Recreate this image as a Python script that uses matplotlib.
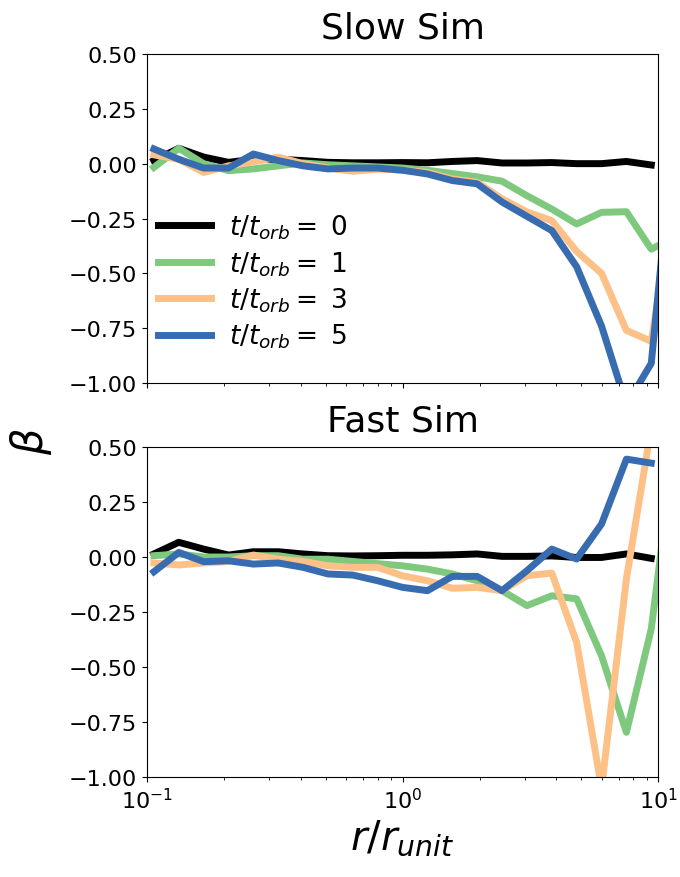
import matplotlib
matplotlib.use("Agg")

import numpy as np
import matplotlib.pyplot as plt

nan = np.nan

# radial bin centres (log spaced), last one sits just past the plot edge
r = np.logspace(-0.9725, 1.07, 22)

times = [0, 1, 3, 5]
colors = ["black", "#7fc97f", "#fdc086", "#386cb0"]

slow_t0 = [0.014, 0.07, 0.03, 0.006, 0.02, 0.02, 0.014, 0.006, 0.004, 0.004, 0.005,
           0.004, 0.01, 0.014, 0.003, 0.003, 0.005, 0.0, 0.0, 0.01, -0.006, nan]
slow_t1 = [-0.017, 0.07, 0.0, -0.032, -0.024, -0.01, 0.003, -0.005, -0.01, -0.015, -0.02,
           -0.03, -0.045, -0.06, -0.08, -0.146, -0.207, -0.275, -0.222, -0.219, -0.39, -0.33]
slow_t3 = [0.04, 0.02, -0.04, -0.01, 0.008, 0.03, 0.0, -0.02, -0.035, -0.025, -0.03,
           -0.04, -0.07, -0.085, -0.16, -0.22, -0.26, -0.40, -0.50, -0.76, -0.81, -0.1]
slow_t5 = [0.067, 0.02, -0.02, -0.02, 0.044, 0.014, -0.01, -0.024, -0.02, -0.02, -0.03,
           -0.047, -0.077, -0.092, -0.175, -0.24, -0.305, -0.47, -0.74, -1.1, -0.91, 0.25]

fast_t0 = [0.014, 0.067, 0.036, 0.009, 0.024, 0.024, 0.014, 0.006, 0.005, 0.006, 0.008,
           0.008, 0.01, 0.014, 0.003, 0.003, 0.005, -0.002, -0.002, 0.014, -0.006, nan]
fast_t1 = [0.006, 0.014, 0.0, 0.0, 0.006, 0.006, -0.01, -0.01, -0.02, -0.03, -0.04,
           -0.055, -0.077, -0.108, -0.153, -0.221, -0.176, -0.19, -0.449, -0.797, -0.327, 0.57]
fast_t3 = [-0.027, -0.036, -0.027, -0.02, 0.009, -0.01, -0.02, -0.04, -0.047, -0.047, -0.085,
           -0.108, -0.142, -0.138, -0.153, -0.085, -0.073, -0.388, -1.05, -0.1, 0.59, 0.8]
fast_t5 = [-0.067, 0.021, -0.021, -0.017, -0.032, -0.027, -0.047, -0.077, -0.082, -0.108, -0.138,
           -0.153, -0.088, -0.088, -0.153, -0.062, 0.036, -0.009, 0.15, 0.445, 0.427, nan]

slow = [slow_t0, slow_t1, slow_t3, slow_t5]
fast = [fast_t0, fast_t1, fast_t3, fast_t5]
yticks = [-1.0, -0.75, -0.5, -0.25, 0.0, 0.25, 0.5]

fig = plt.figure(figsize=(6.8, 8.78), dpi=100)
ax1 = fig.add_axes([0.216, 0.5626, 0.752, 0.3748])
ax2 = fig.add_axes([0.216, 0.1139, 0.752, 0.3758], sharex=ax1)

for ax, data, title in [(ax1, slow, "Slow Sim"), (ax2, fast, "Fast Sim")]:
    for t, c, y in zip(times, colors, data):
        ax.plot(r, y, color=c, lw=5, label=r"$t/t_{orb} =$ %d" % t)
    ax.set_xscale("log")
    ax.set_xlim(0.1, 10)
    ax.set_ylim(-1.0, 0.5)
    ax.set_yticks(yticks)
    ax.set_yticklabels(["%.2f" % v if v >= 0 else "\u2212%.2f" % -v for v in yticks])
    ax.tick_params(labelsize=16)
    ax.set_title(title, fontsize=26, pad=12)

plt.setp(ax1.get_xticklabels(), visible=False)
ax1.legend(loc="upper left", bbox_to_anchor=(-0.025, 0.59), frameon=False,
           fontsize=19, handlelength=2.0, labelspacing=0.3, handletextpad=0.7)

fig.text(0.045, 0.497, r"$\beta$", rotation=90, fontsize=30, va="center", ha="center")
ax2.set_xlabel(r"$r/r_{unit}$", fontsize=29)

fig.savefig("out.png", dpi=100)
plt.close(fig)
